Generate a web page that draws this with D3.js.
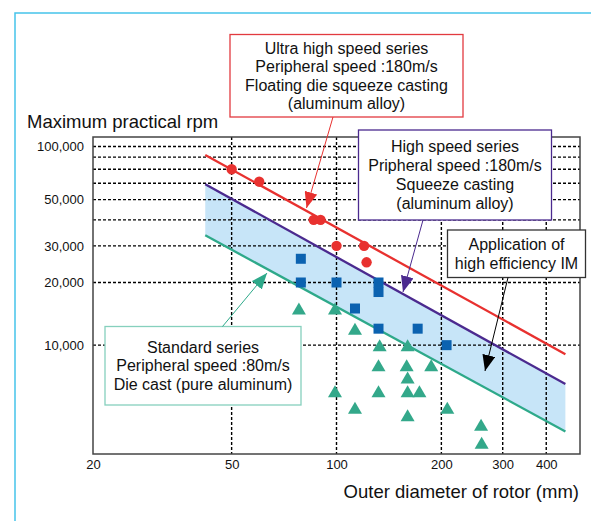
<!DOCTYPE html>
<html>
<head>
<meta charset="utf-8">
<script src="https://cdn.jsdelivr.net/npm/d3@7"></script>
<style>
  body { margin: 0; background: #fff; }
  text { font-family: "Liberation Sans", Arial, sans-serif; fill: #111; }
</style>
</head>
<body>
<div class="chart"></div>
<script>
var ultraD   = [50, 60, 86, 90, 100, 120, 122];
var ultraRpm = [70000, 61000, 40000, 40000, 30000, 30000, 25000];

var highD   = [79, 79, 100, 113, 132, 132, 132, 171, 207];
var highRpm = [26000, 20000, 20000, 15000, 20000, 18000, 12000, 12000, 10000];

var standardD   = [78, 99, 113, 133, 160, 132, 159, 187, 160, 99, 132, 160, 173, 113, 208, 160, 260, 261];
var standardRpm = [15000, 15000, 12000, 10000, 10000, 8000, 8000, 8000, 7000, 6000, 6000, 6000, 6000, 5000, 5000, 4600, 4150, 3400];

// 限界線 (周速)
var limitD        = [42, 454];
var ultraLimit    = [82000, 9050];
var highLimit     = [59300, 6500];
var standardLimit = [33700, 3850];

// 目盛り
var xTicks      = [20, 50, 100, 200, 300, 400];
var xGrid       = [50, 100, 200, 300, 400];
var yGrid       = [10000, 20000, 30000, 40000, 50000, 60000, 70000, 80000, 90000];
var yTickValues = [10000, 20000, 30000, 50000, 90000];
var yTickLabels = ["10,000", "20,000", "30,000", "50,000", "100,000"];

var margin = {top: 137, right: 11, bottom: 67, left: 93},
    W = 591, H = 521,
    area = {width: W - margin.left - margin.right, height: H - margin.top - margin.bottom};

var x = d3.scaleLog().domain([20, 500]).range([0, area.width]);
var y = d3.scaleLog().domain([3000, 100000]).range([area.height, 0]);

var svg = d3.select("div.chart").append("svg")
    .attr("width", W)
    .attr("height", H);

// 外枠 (水色)
svg.append("path")
    .attr("d", "M15,521 V13 H591")
    .attr("fill", "none")
    .attr("stroke", "#45c3ea")
    .attr("stroke-width", 1.5);

// 矢印
var defs = svg.append("defs");
function marker(id, color) {
    defs.append("marker")
        .attr("id", id)
        .attr("markerUnits", "userSpaceOnUse")
        .attr("viewBox", "0 0 16 13")
        .attr("refX", 16).attr("refY", 6.5)
        .attr("markerWidth", 16).attr("markerHeight", 13)
        .attr("orient", "auto")
        .append("path")
        .attr("d", "M0,0 L16,6.5 L0,13 Z")
        .attr("fill", color);
}
marker("arrRed", "#e8312f");
marker("arrPurple", "#4b2a8f");
marker("arrTeal", "#2ea98a");
marker("arrBlack", "#000");

var g = svg.append("g")
    .attr("transform", "translate(" + margin.left + "," + margin.top + ")");

// 帯 (高効率IMの適用範囲)
var band = limitD.map(function(d, i) { return {d: d, hi: highLimit[i], lo: standardLimit[i]}; });
g.append("path")
    .datum(band)
    .attr("fill", "#c7e5f8")
    .attr("d", d3.area()
        .x(function(d) { return x(d.d); })
        .y0(function(d) { return y(d.lo); })
        .y1(function(d) { return y(d.hi); }));

// グリッド
g.selectAll(".hgrid").data(yGrid).enter()
    .append("line")
    .attr("class", "hgrid")
    .attr("x1", 0).attr("x2", area.width)
    .attr("y1", function(d) { return y(d); })
    .attr("y2", function(d) { return y(d); })
    .attr("stroke", "#000").attr("stroke-width", 1.4)
    .attr("stroke-dasharray", "3,2");

g.selectAll(".vgrid").data(xGrid).enter()
    .append("line")
    .attr("class", "vgrid")
    .attr("y1", 0).attr("y2", area.height)
    .attr("x1", function(d) { return x(d); })
    .attr("x2", function(d) { return x(d); })
    .attr("stroke", "#000").attr("stroke-width", 1.4)
    .attr("stroke-dasharray", "3,2");

// 枠
g.append("rect")
    .attr("width", area.width).attr("height", area.height)
    .attr("fill", "none").attr("stroke", "#444").attr("stroke-width", 1.5);

// 軸
var xAxis = d3.axisBottom(x).tickValues(xTicks).tickFormat(d3.format("d")).tickSize(0).tickPadding(6);
var gx = g.append("g").attr("transform", "translate(0," + area.height + ")").call(xAxis);
gx.select(".domain").remove();
gx.selectAll("text").style("font-size", "13px").attr("fill", "#111");

var yAxis = d3.axisLeft(y).tickValues(yTickValues)
    .tickFormat(function(d, i) { return yTickLabels[i]; })
    .tickSize(0).tickPadding(9);
var gy = g.append("g").call(yAxis);
gy.select(".domain").remove();
gy.selectAll("text").style("font-size", "13px").attr("fill", "#111");

// 限界線
function limitLine(vals, color) {
    g.append("path")
        .datum(limitD.map(function(d, i) { return [d, vals[i]]; }))
        .attr("fill", "none")
        .attr("stroke", color)
        .attr("stroke-width", 2.3)
        .attr("d", d3.line()
            .x(function(d) { return x(d[0]); })
            .y(function(d) { return y(d[1]); }));
}
limitLine(ultraLimit, "#e8312f");
limitLine(highLimit, "#4b2a8f");
limitLine(standardLimit, "#2ea98a");

// 点
g.selectAll(".tri").data(standardD).enter()
    .append("path")
    .attr("class", "tri")
    .attr("d", "M0,-6 L7,6 L-7,6 Z")
    .attr("fill", "#33a88a")
    .attr("transform", function(d, i) { return "translate(" + x(d) + "," + y(standardRpm[i]) + ")"; });

g.selectAll(".sq").data(highD).enter()
    .append("rect")
    .attr("class", "sq")
    .attr("width", 10).attr("height", 10)
    .attr("x", function(d) { return x(d) - 5; })
    .attr("y", function(d, i) { return y(highRpm[i]) - 5; })
    .attr("fill", "#0b62b0");

g.selectAll(".dot").data(ultraD).enter()
    .append("circle")
    .attr("class", "dot")
    .attr("r", 5.2)
    .attr("cx", function(d) { return x(d); })
    .attr("cy", function(d, i) { return y(ultraRpm[i]); })
    .attr("fill", "#e8312f");

// 注記
function note(box, color, lines, lh) {
    svg.append("rect")
        .attr("x", box[0]).attr("y", box[1])
        .attr("width", box[2] - box[0]).attr("height", box[3] - box[1])
        .attr("fill", "#fff").attr("stroke", color).attr("stroke-width", 1.3);
    var cx = (box[0] + box[2]) / 2;
    var y0 = (box[1] + box[3]) / 2 - (lines.length - 1) * lh / 2;
    lines.forEach(function(t, i) {
        svg.append("text")
            .attr("x", cx).attr("y", y0 + i * lh)
            .attr("dy", "0.35em")
            .attr("text-anchor", "middle")
            .style("font-size", "16px")
            .text(t);
    });
}
function arrow(p, color, id) {
    svg.append("line")
        .attr("x1", p[0]).attr("y1", p[1]).attr("x2", p[2]).attr("y2", p[3])
        .attr("stroke", color).attr("stroke-width", 1)
        .attr("marker-end", "url(#" + id + ")");
}

note([230, 34.5, 463, 117], "#e23a3f",
    ["Ultra high speed series", "Peripheral speed :180m/s", "Floating die squeeze casting", "(aluminum alloy)"], 18.5);
note([358.5, 130, 551.5, 220], "#4b2a8f",
    ["High speed series", "Pripheral speed :180m/s", "Squeeze casting", "(aluminum alloy)"], 19);
note([105, 326.5, 301, 405], "#86d0bd",
    ["Standard series", "Peripheral speed :80m/s", "Die cast (pure aluminum)"], 18.5);
note([447.5, 230, 585.5, 277.5], "#333",
    ["Application of", "high efficiency IM"], 18.5);

arrow([333, 117, 306.5, 208], "#e8312f", "arrRed");
arrow([423, 220, 403, 292], "#4b2a8f", "arrPurple");
arrow([222.5, 326.5, 267, 273], "#2ea98a", "arrTeal");
arrow([508, 277.5, 485, 371], "#000", "arrBlack");

// 軸タイトル
svg.append("text")
    .attr("x", 27).attr("y", 122).attr("dy", "0.35em")
    .style("font-size", "18.5px")
    .text("Maximum practical rpm");
svg.append("text")
    .attr("x", 579).attr("y", 492).attr("dy", "0.35em")
    .attr("text-anchor", "end")
    .style("font-size", "18.5px")
    .text("Outer diameter of rotor (mm)");
</script>
</body>
</html>
